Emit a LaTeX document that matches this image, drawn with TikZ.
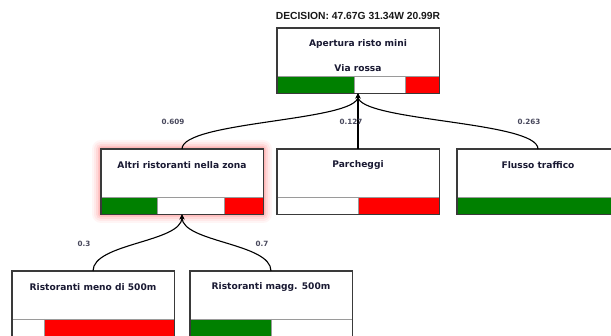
\documentclass[tikz,border=0pt]{standalone}
\usepackage{fontspec}
\setmainfont{DejaVu Sans}
\newfontfamily\titlefont{Liberation Sans}
\usetikzlibrary{calc,arrows.meta}

\definecolor{barGreen}{HTML}{008000}
\definecolor{barRed}{HTML}{FF0000}
\definecolor{frameGray}{HTML}{3A3A3A}
\definecolor{sepGray}{HTML}{9A9A9A}
\definecolor{inkBlue}{HTML}{1A1A33}

\tikzset{
  critnode/.style={rectangle, minimum width=162pt, minimum height=65pt,
    inner sep=0pt, anchor=north, fill=white},
  critframe/.style={draw=frameGray, line width=1.4pt},
  crittext/.style={font=\bfseries\fontsize{9.1}{10}\selectfont, text=inkBlue},
  wlabel/.style={font=\bfseries\fontsize{7.2}{9}\selectfont, text=inkBlue!80},
  headline/.style={font=\titlefont\bfseries\fontsize{10.3}{12}\selectfont, text=black!90},
  segment/.style={draw=sepGray, line width=0.6pt},
  link/.style={draw=black, line width=1.1pt, {Stealth[length=5pt,width=5pt]}-},
}

% criterion box: name, centre x, top y, green share, white share
\newcommand\critbox[5]{%
  \node[critnode] (#1) at (#2,#3) {};
  \pgfmathsetmacro\xa{#2-81}
  \pgfmathsetmacro\xb{\xa+162*#4}
  \pgfmathsetmacro\xc{\xb+162*#5}
  \pgfmathsetmacro\xd{#2+81}
  \pgfmathsetmacro\ya{#3+48}
  \pgfmathsetmacro\yb{#3+65}
  \fill[barGreen] (\xa,\ya) rectangle (\xb,\yb);
  \fill[barRed] (\xc,\ya) rectangle (\xd,\yb);
  \draw[segment] (\xa,\ya) -- (\xd,\ya) (\xb,\ya) -- (\xb,\yb) (\xc,\ya) -- (\xc,\yb);
  \draw[critframe] (#1.north west) rectangle (#1.south east);
}

\begin{document}
\begin{tikzpicture}[x=1pt, y=-1pt]
  \useasboundingbox (0,0) rectangle (611,336);
  \clip (0,0) rectangle (611,336);

  % red glow around the selected criterion
  \foreach \r/\o in {9/0.04, 7/0.05, 5/0.07, 3/0.09, 1.5/0.12}
    \fill[barRed, opacity=\o, rounded corners=\r pt] (101-\r,149-\r) rectangle (263+\r,214+\r);

  \node[headline] (title) at (358,16) {DECISION: 47.67G 31.34W 20.99R};

  \critbox{goal}{358}{28}{0.4767}{0.3134}
  \node[crittext] (goal-a) at (358,44) {Apertura risto mini};
  \node[crittext] (goal-b) at (358,68) {Via rossa};

  \critbox{alt}{182}{149}{0.35}{0.41}
  \node[crittext] (alt-t) at (182,165) {Altri ristoranti nella zona};

  \critbox{park}{358}{149}{0}{0.5}
  \node[crittext] (park-t) at (358,165) {Parcheggi};

  \critbox{flow}{538}{149}{1}{0}
  \node[crittext] (flow-t) at (538,165) {Flusso traffico};

  \critbox{near}{93}{271}{0}{0.2}
  \node[crittext] (near-t) at (93,287) {Ristoranti meno di 500m};

  \critbox{far}{271}{271}{0.5}{0.5}
  \node[crittext] (far-t) at (271,287) {Ristoranti magg. 500m};

  % weighted links
  \draw[link] (goal.south) .. controls +(0,28) and +(0,-28) .. (alt.north);
  \draw[link] (goal.south) -- (park.north);
  \draw[link] (goal.south) .. controls +(0,28) and +(0,-28) .. (flow.north);
  \draw[link] (alt.south) .. controls +(0,28) and +(0,-28) .. (near.north);
  \draw[link] (alt.south) .. controls +(0,28) and +(0,-28) .. (far.north);

  \node[wlabel] (w-alt) at ([xshift=-9pt, yshift=27pt]alt.north) {0.609};
  \node[wlabel] (w-park) at ([xshift=-7pt, yshift=27pt]park.north) {0.127};
  \node[wlabel] (w-flow) at ([xshift=-9pt, yshift=27pt]flow.north) {0.263};
  \node[wlabel] (w-near) at ([xshift=-9pt, yshift=27pt]near.north) {0.3};
  \node[wlabel] (w-far) at ([xshift=-9pt, yshift=27pt]far.north) {0.7};
\end{tikzpicture}
\end{document}
